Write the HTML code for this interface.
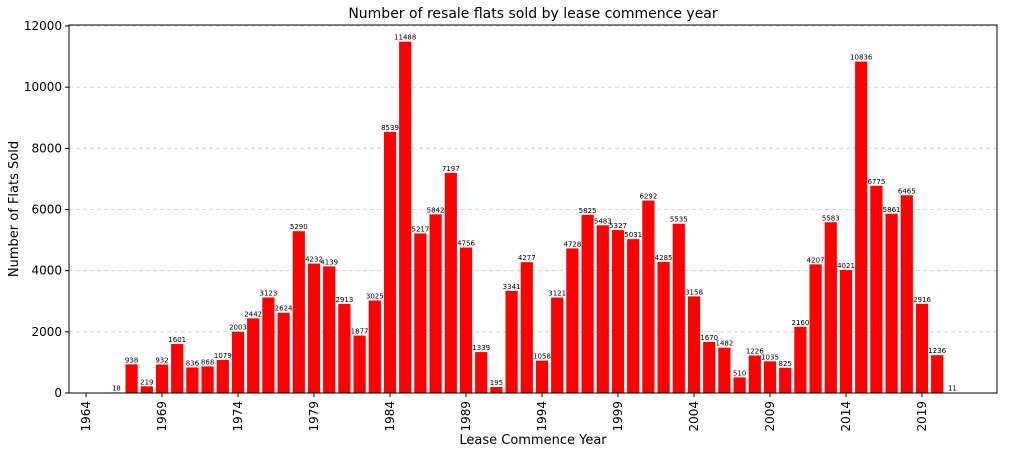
<!DOCTYPE html>
<html><head><meta charset="utf-8"><style>
body{margin:0;background:#fff;}
svg text{font-family:"DejaVu Sans","Liberation Sans",sans-serif;}
</style></head><body>
<svg id="chart" width="1015" height="463" xmlns="http://www.w3.org/2000/svg">
<text x="533" y="18" text-anchor="middle" font-size="14">Number of resale flats sold by lease commence year</text>
<g id="grid"></g><g id="bars"></g><g id="axes"></g>
<text x="533" y="444" text-anchor="middle" font-size="13">Lease Commence Year</text>
<text transform="translate(18,209) rotate(-90)" text-anchor="middle" font-size="13">Number of Flats Sold</text>
</svg>
<script>
const years=[1966,1967,1968,1969,1970,1971,1972,1973,1974,1975,1976,1977,1978,1979,1980,1981,1982,1983,1984,1985,1986,1987,1988,1989,1990,1991,1992,1993,1994,1995,1996,1997,1998,1999,2000,2001,2002,2003,2004,2005,2006,2007,2008,2009,2010,2011,2012,2013,2014,2015,2016,2017,2018,2019,2020,2021];
const counts=[18,938,219,932,1601,836,868,1079,2003,2442,3123,2624,5290,4232,4139,2913,1877,3025,8539,11488,5217,5842,7197,4756,1339,195,3341,4277,1058,3121,4728,5825,5483,5327,5031,6292,4285,5535,3158,1670,1482,510,1226,1035,825,2160,4207,5583,4021,10836,6775,5861,6465,2916,1236,11];
const xTicks=[1964,1969,1974,1979,1984,1989,1994,1999,2004,2009,2014,2019];
const yTicks=[0,2000,4000,6000,8000,10000,12000];
const L=69,R=997,T=25,B=393;
const x=v=>86+(v-1964)*15.2;
const y=v=>B-v*(B-26)/12000;
const NS="http://www.w3.org/2000/svg";
function mk(t,a,p){const e=document.createElementNS(NS,t);for(const k in a)e.setAttribute(k,a[k]);p.appendChild(e);return e;}
const grid=document.getElementById('grid'),bars=document.getElementById('bars'),axes=document.getElementById('axes');
yTicks.forEach(v=>{
 const g=mk('line',{x1:L,x2:R,y1:y(v),y2:y(v),stroke:'#ccc','stroke-dasharray':'4,3','stroke-width':0.8},grid);
 
 
 const tk=mk('line',{x1:L-4,x2:L,y1:y(v),y2:y(v),stroke:'#000'},axes);
 
 
 const t=mk('text',{x:L-7,y:y(v)+4,'text-anchor':'end','font-size':12},axes);t.textContent=v;
 
 
});
xTicks.forEach(v=>{
 const tk=mk('line',{x1:x(v),x2:x(v),y1:B,y2:B+4,stroke:'#000'},axes);
 
 
 const t=mk('text',{transform:`translate(${x(v)+4},${B+8}) rotate(-90)`,'text-anchor':'end','font-size':12},axes);t.textContent=v;
 
 
});
years.forEach((yr,i)=>{
 const c=counts[i];
 const r=mk('rect',{x:x(yr)-6.1,width:12.2,y:y(c),height:B-y(c),fill:'#ff0000'},bars);
 
 
 const t=mk('text',{x:x(yr),y:y(c)-2,'text-anchor':'middle','font-size':7},bars);t.textContent=c;
 
 
});
const fr=mk('rect',{x:L,y:T,width:R-L,height:B-T,fill:'none',stroke:'#000','stroke-width':1},axes);


</script>
</body></html>
